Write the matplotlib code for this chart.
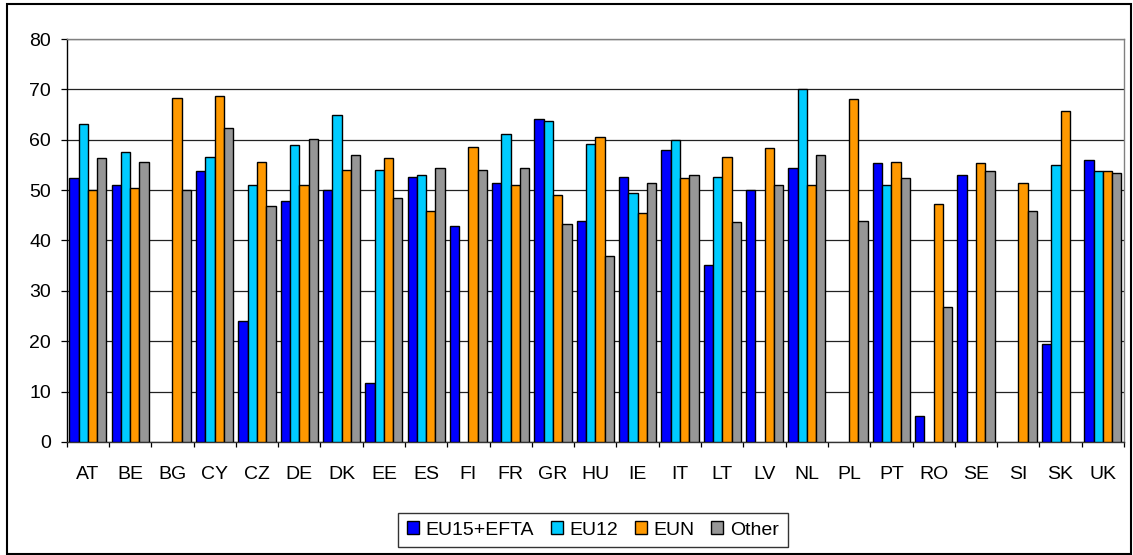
import numpy as np
import matplotlib
matplotlib.use("Agg")
import matplotlib.pyplot as plt
from matplotlib.patches import Rectangle

plt.rcParams['font.family'] = ['Liberation Sans', 'DejaVu Sans']

# Category labels and series values (nan = no bar)
countries = ["AT", "BE", "BG", "CY", "CZ", "DE", "DK", "EE", "ES", "FI", "FR", "GR", "HU",
             "IE", "IT", "LT", "LV", "NL", "PL", "PT", "RO", "SE", "SI", "SK", "UK"]
nan = np.nan
eu15_efta = [52.4, 51.1, nan, 53.7, 24.1, 47.9, 50.1, 11.8, 52.7, 42.9, 51.4, 64.1, 43.9,
             52.7, 57.9, 35.1, 50.1, 54.4, nan, 55.3, 5.2, 53.0, nan, 19.5, 56.0]
eu12 = [63.1, 57.5, nan, 56.6, 51.1, 58.9, 65.0, 54.0, 53.0, nan, 61.1, 63.8, 59.2,
        49.5, 59.9, 52.7, nan, 70.0, nan, 51.1, nan, nan, nan, 55.0, 53.7]
eun = [50.1, 50.4, 68.3, 68.7, 55.6, 51.1, 54.0, 56.3, 45.8, 58.5, 51.1, 49.1, 60.5,
       45.5, 52.4, 56.6, 58.3, 51.1, 68.0, 55.6, 47.2, 55.3, 51.4, 65.7, 53.7]
other = [56.3, 55.6, 50.1, 62.4, 46.9, 60.2, 56.9, 48.5, 54.4, 54.0, 54.4, 43.3, 37.0,
         51.4, 53.0, 43.6, 51.1, 56.9, 43.9, 52.4, 26.7, 53.7, 45.8, nan, 53.4]

series = [("EU15+EFTA", eu15_efta, "#0000FF"),
          ("EU12", eu12, "#00CCFF"),
          ("EUN", eun, "#FF9900"),
          ("Other", other, "#969696")]

W, H = 1133, 555
fs = 14
fig = plt.figure(figsize=(W / 100, H / 100), dpi=100)
ax = fig.add_axes([66.7 / W, (H - 442) / H, (1124 - 66.7) / W, (442 - 39) / H])

x = np.arange(len(countries))
bw = 0.22
for i, (name, vals, col) in enumerate(series):
    ax.bar(x + (i - 1.5) * bw, vals, bw, color=col, edgecolor="black",
           linewidth=1.0, label=name, zorder=3)

ax.set_xlim(-0.5, len(countries) - 0.5)
ax.set_ylim(0, 80)
ax.set_yticks(range(0, 81, 10))
ax.grid(axis="y", color="#222222", linewidth=0.9, zorder=0)

ax.set_xticks(x)
ax.set_xticklabels(countries, fontsize=fs)
ax.set_xticks(np.arange(-0.5, len(countries), 1), minor=True)
ax.tick_params(axis="x", which="major", length=0, pad=17)
ax.tick_params(axis="x", which="minor", length=3.6, width=0.9, direction="out")
ax.tick_params(axis="y", length=4.3, width=0.9, direction="out", labelsize=fs, pad=7)

ax.spines["top"].set_color("#808080")
ax.spines["right"].set_color("#808080")
ax.spines["left"].set_color("black")
ax.spines["bottom"].set_color("#333333")
for s in ax.spines.values():
    s.set_linewidth(1.0)

leg = fig.legend(loc="center", bbox_to_anchor=(593 / W, (H - 530) / H), ncol=4,
                 fontsize=fs, frameon=True, fancybox=False, edgecolor="black",
                 handlelength=0.62, handleheight=0.62, handletextpad=0.35,
                 columnspacing=0.85, borderpad=0.45, borderaxespad=0)
leg.get_frame().set_linewidth(1.0)

# outer chart frame
fig.patches.append(Rectangle((7 / W, 1 - 554 / H), (1131 - 7) / W, (554 - 4) / H,
                             transform=fig.transFigure, fill=False,
                             edgecolor="black", linewidth=1.5))

fig.savefig("out.png", dpi=100)
